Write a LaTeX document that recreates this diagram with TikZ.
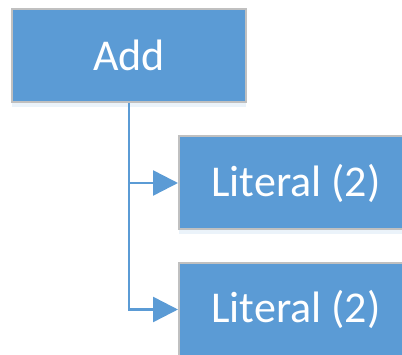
\documentclass[tikz,border=0pt]{standalone}
\usepackage{fontspec}
\setmainfont{Carlito}
\usetikzlibrary{arrows.meta,shadows}
\definecolor{boxblue}{HTML}{5B9BD5}
\definecolor{boxedge}{HTML}{C0C0C0}
\begin{document}
\begin{tikzpicture}[x=1pt, y=-1pt,
  exprbox/.style={draw=boxedge, line width=2pt, fill=boxblue, text=white,
    minimum width=234pt, minimum height=93pt, inner sep=0pt,
    font=\fontsize{44}{50}\selectfont,
    drop shadow={opacity=0.12, shadow xshift=0pt, shadow yshift=-5pt, fill=boxblue}},
  child/.style={draw=boxblue, line width=2.5pt, -{Triangle[length=25pt, width=25pt]}}]
\useasboundingbox (0,0) rectangle (402,355);
\node[exprbox] (add) at (129,55.5) {Add};
\node[exprbox] (lit_1) at (296,183) {Literal (2)};
\node[exprbox] (lit_2) at (296,309.5) {Literal (2)};
\draw[child] (add.south) |- (lit_1.west);
\draw[child] (add.south) |- (lit_2.west);
\end{tikzpicture}
\end{document}
